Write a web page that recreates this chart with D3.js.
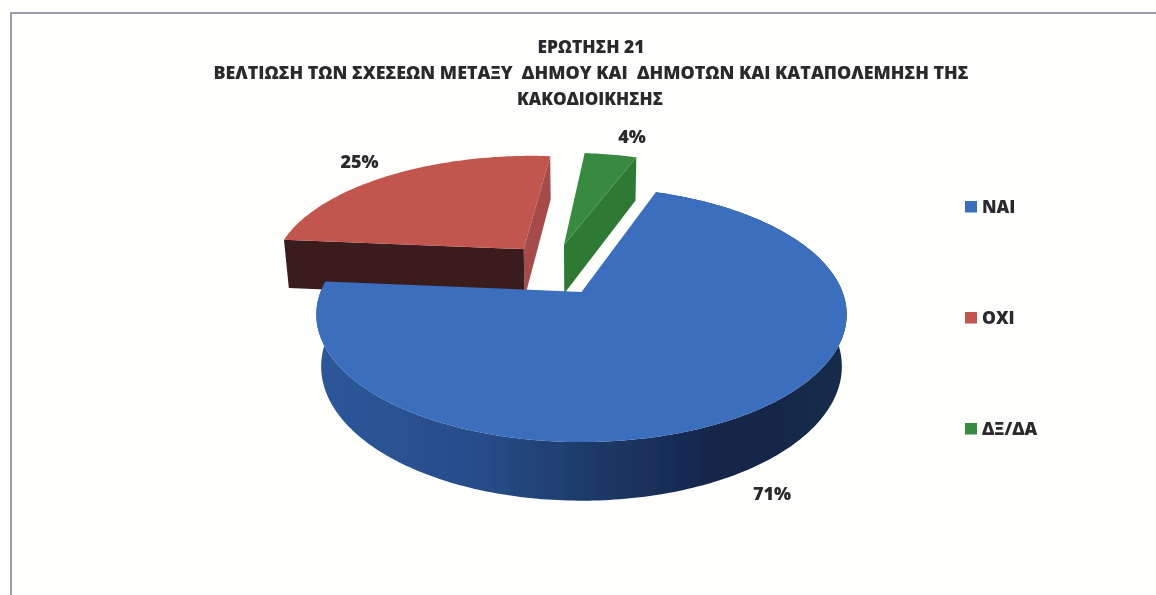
<!DOCTYPE html>
<html>
<head>
<meta charset="utf-8">
<script src="https://cdn.jsdelivr.net/npm/d3@7"></script>
<style>
  html, body { margin: 0; padding: 0; background: #fefefc; overflow: hidden; }
  text { font-family: "Open Sans", "Noto Sans", sans-serif; font-weight: 800; fill: #2b2b2f; }
</style>
</head>
<body>
<svg id="chart" width="1156" height="595"></svg>
<script>
var categories = ["ΝΑΙ", "ΟΧΙ", "ΔΞ/ΔΑ"];
var shares = [71, 25, 4];
var titleLines = [
  "ΕΡΩΤΗΣΗ 21",
  "ΒΕΛΤΙΩΣΗ ΤΩΝ ΣΧΕΣΕΩΝ ΜΕΤΑΞΥ  ΔΗΜΟΥ ΚΑΙ  ΔΗΜΟΤΩΝ ΚΑΙ ΚΑΤΑΠΟΛΕΜΗΣΗ ΤΗΣ",
  "ΚΑΚΟΔΙΟΙΚΗΣΗΣ"
];

var topColors = ["#3a6ebd", "#c2564f", "#388a3f"];
var cutColors = ["#234a85", "#a54c4a", "#2e7a36"];

// the fake 3d: disk coords (u, v) with v towards the viewer, z going down
var cx = 581.5, cy = 292;
var sx = 261, sy = 123.5, sz = 52;
var persp = 0.177, perspZ = 0.018;

function project(u, v, z) {
  var w = 1 - persp * v + perspZ * z;
  return [cx + sx * u / w, cy + (sy * v + sz * z) / w];
}

// how far each slice is pulled out, in disk units
var offsets = [[0, 0], [-0.236, -0.37], [-0.072, -0.408]];

var svg = d3.select("#chart");

// the reference is a soft scan
var defs = svg.append("defs");
defs.append("filter").attr("id", "soft")
  .append("feGaussianBlur").attr("stdDeviation", 0.6);

var wallGrad = defs.append("linearGradient")
  .attr("id", "wall")
  .attr("gradientUnits", "userSpaceOnUse")
  .attr("x1", 320).attr("x2", 845).attr("y1", 0).attr("y2", 0);
wallGrad.append("stop").attr("offset", "0").attr("stop-color", "#2d5699");
wallGrad.append("stop").attr("offset", "0.3").attr("stop-color", "#274d8a");
wallGrad.append("stop").attr("offset", "0.52").attr("stop-color", "#1d3a68");
wallGrad.append("stop").attr("offset", "0.75").attr("stop-color", "#16264a");
wallGrad.append("stop").attr("offset", "1").attr("stop-color", "#182a4a");

var root = svg.append("g").attr("filter", "url(#soft)");

// frame, scanned page edge
root.append("path")
  .attr("d", d3.line()([[1156, 13], [11, 13], [11, 595]]))
  .attr("fill", "none")
  .attr("stroke", "#9c9dab")
  .attr("stroke-width", 2);

var pie = d3.pie().sort(null)
  .startAngle(19.4 * Math.PI / 180)
  .endAngle((19.4 + 360) * Math.PI / 180);
var slices = pie(shares);

var line = d3.line();

function rimPoints(s, i, z) {
  var off = offsets[i];
  var n = Math.max(6, Math.round((s.endAngle - s.startAngle) * 60));
  return d3.range(n + 1).map(function(k) {
    var a = s.startAngle + (s.endAngle - s.startAngle) * k / n;
    return project(off[0] + Math.sin(a), off[1] - Math.cos(a), z);
  });
}

function apex(i, z) {
  return project(offsets[i][0], offsets[i][1], z);
}

// back slices first, blue goes on top of them
[1, 2, 0].forEach(function(i) {
  var s = slices[i];
  var top = rimPoints(s, i, 0);
  var bottom = rimPoints(s, i, 1);
  var g = root.append("g");

  if (i == 0) {
    // outer wall of the big slice
    g.append("path")
      .attr("d", line(top.concat(bottom.slice().reverse())) + "Z")
      .attr("fill", "url(#wall)");
  }
  if (i == 1) {
    // cut face looking at us
    g.append("path")
      .attr("d", line([apex(i, 0), top[top.length - 1], bottom[bottom.length - 1], apex(i, 1)]) + "Z")
      .attr("fill", cutColors[i]);
    g.append("path")
      .attr("d", line([top[0], apex(i, 0), apex(i, 1), bottom[0]]) + "Z")
      .attr("fill", "#3b1a1d");
  }
  if (i == 2) {
    g.append("path")
      .attr("d", line([apex(i, 0), top[top.length - 1], bottom[bottom.length - 1], apex(i, 1)]) + "Z")
      .attr("fill", cutColors[i]);
  }
  g.append("path")
    .attr("d", line([apex(i, 0)].concat(top)) + "Z")
    .attr("fill", topColors[i]);
});

// title
var titleX = [591, 591, 590];
var titleY = [53, 79, 105];
var titleW = [107, 755, 146];
root.selectAll("text.title").data(titleLines).enter().append("text")
  .attr("class", "title")
  .attr("x", function(d, i) { return titleX[i]; })
  .attr("y", function(d, i) { return titleY[i]; })
  .attr("text-anchor", "middle")
  .attr("font-size", 17)
  .attr("textLength", function(d, i) { return titleW[i]; })
  .attr("lengthAdjust", "spacingAndGlyphs")
  .attr("xml:space", "preserve")
  .text(function(d) { return d; });

// percent labels
var labelX = [772, 359.5, 632];
var labelY = [500, 168, 143];
root.selectAll("text.pct").data(shares).enter().append("text")
  .attr("class", "pct")
  .attr("x", function(d, i) { return labelX[i]; })
  .attr("y", function(d, i) { return labelY[i]; })
  .attr("text-anchor", "middle")
  .attr("font-size", 18)
  .text(function(d) { return d + "%"; });

// legend
var legendY = d3.scalePoint().domain(categories).range([206.5, 428.5]);
var legend = root.selectAll("g.legend").data(categories).enter().append("g")
  .attr("class", "legend")
  .attr("transform", function(d) { return "translate(965," + legendY(d) + ")"; });
legend.append("rect")
  .attr("x", 0).attr("y", -5.5)
  .attr("width", 12).attr("height", 11.5)
  .attr("fill", function(d, i) { return topColors[i]; });
legend.append("text")
  .attr("x", 17).attr("y", 6)
  .attr("font-size", 17.5)
  .text(function(d) { return d; });
</script>
</body>
</html>
